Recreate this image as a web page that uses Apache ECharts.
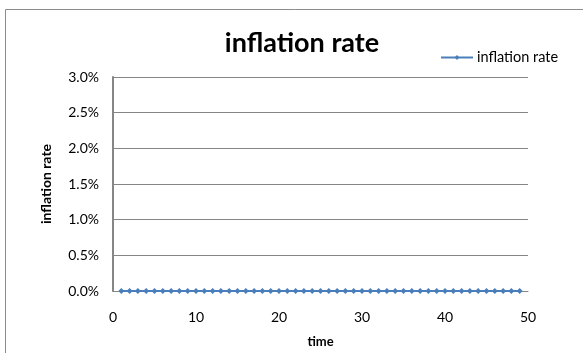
<!DOCTYPE html>
<html>
<head>
<meta charset="utf-8">
<script src="https://cdn.jsdelivr.net/npm/echarts@6/dist/echarts.min.js"></script>
<style>
  html, body { margin: 0; padding: 0; background: #fff; }
  #chart { width: 583px; height: 353px; }
</style>
</head>
<body>
<div id="chart"></div>
<script>
// Period index (x) and the inflation rate recorded at each period (y, as a fraction)
const times = [1, 2, 3, 4, 5, 6, 7, 8, 9, 10, 11, 12, 13, 14, 15, 16, 17, 18, 19, 20,
  21, 22, 23, 24, 25, 26, 27, 28, 29, 30, 31, 32, 33, 34, 35, 36, 37, 38, 39, 40,
  41, 42, 43, 44, 45, 46, 47, 48, 49];
const rates = [0, 0, 0, 0, 0, 0, 0, 0, 0, 0, 0, 0, 0, 0, 0, 0, 0, 0, 0, 0,
  0, 0, 0, 0, 0, 0, 0, 0, 0, 0, 0, 0, 0, 0, 0, 0, 0, 0, 0, 0,
  0, 0, 0, 0, 0, 0, 0, 0, 0];
const seriesName = 'inflation rate';

const FONT = 'Lato, "Open Sans", sans-serif';
const chart = echarts.init(document.getElementById('chart'));

chart.setOption({
  animation: false,
  backgroundColor: '#fff',
  textStyle: { fontFamily: FONT },
  title: {
    text: 'inflation rate',
    left: 297, top: 25, textAlign: 'center',
    textStyle: { fontFamily: FONT, fontSize: 27, fontWeight: 'bold', color: '#000' }
  },
  legend: {
    data: [seriesName],
    left: 435, top: 45,
    itemWidth: 32, itemHeight: 6, itemGap: 4,
    textStyle: { fontFamily: FONT, fontSize: 14.5, color: '#000', padding: [0, 0, 0, -1] }
  },
  graphic: [{
    type: 'rect', silent: true, z: -1,
    shape: { x: 5.5, y: 9.5, width: 700, height: 500 },
    style: { fill: 'none', stroke: '#8c8c8c', lineWidth: 1 }
  }],
  grid: { left: 113, right: 55, top: 77, bottom: 55, containLabel: false },
  xAxis: {
    type: 'value', min: 0, max: 50, interval: 10,
    name: 'time', nameLocation: 'middle', nameGap: 44,
    nameTextStyle: { fontFamily: FONT, fontSize: 13, fontWeight: 'bold', color: '#000' },
    axisLine: { show: true, onZero: false, lineStyle: { color: '#868686', width: 1 } },
    axisTick: { show: false },
    axisLabel: { fontFamily: FONT, fontSize: 14, color: '#000', margin: 19 },
    splitLine: { show: false }
  },
  yAxis: {
    type: 'value', min: 0, max: 0.03, interval: 0.005,
    name: 'inflation rate', nameLocation: 'middle', nameGap: 60, nameRotate: 90,
    nameTextStyle: { fontFamily: FONT, fontSize: 14, fontWeight: 'bold', color: '#000' },
    axisLine: { show: true, lineStyle: { color: '#868686', width: 2 } },
    axisTick: { show: false },
    axisLabel: {
      fontFamily: FONT, fontSize: 14, color: '#000', margin: 14,
      formatter: v => (v * 100).toFixed(1) + '%'
    },
    splitLine: { show: true, lineStyle: { color: '#868686', width: 1 } }
  },
  series: [{
    name: seriesName,
    type: 'line',
    data: times.map((t, i) => [t, rates[i]]),
    symbol: 'diamond', symbolSize: 6,
    itemStyle: { color: '#4a7ebb' },
    lineStyle: { color: '#4a7ebb', width: 2 }
  }]
});
</script>
</body>
</html>
